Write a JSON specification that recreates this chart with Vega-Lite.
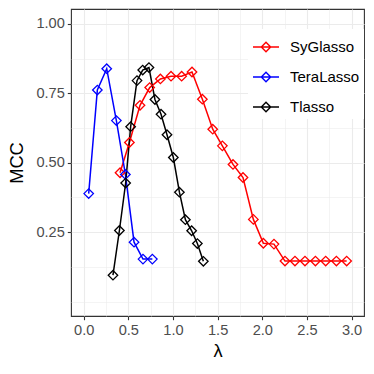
{
  "$schema": "https://vega.github.io/schema/vega-lite/v6.json",
  "width": 293,
  "height": 307,
  "autosize": "none",
  "padding": {"left": 71, "top": 9, "right": 10, "bottom": 58},
  "background": "white",
  "config": {
    "font": "Liberation Sans",
    "view": {"stroke": "#333333", "strokeWidth": 1.1},
    "axis": {
      "domain": false,
      "gridColor": "#EBEBEB",
      "tickColor": "#333333",
      "tickSize": 3.7,
      "tickWidth": 1.1,
      "labelColor": "#4D4D4D",
      "labelFontSize": 14.6,
      "labelFont": "Liberation Sans",
      "labelPadding": 3,
      "titleColor": "black",
      "titleFont": "Liberation Sans",
      "titleFontSize": 18.3,
      "titleFontWeight": "normal"
    }
  },
  "data": {
    "values": [
      {"method": "SyGlasso", "lambda": 0.407, "mcc": 0.464},
      {"method": "SyGlasso", "lambda": 0.512, "mcc": 0.573},
      {"method": "SyGlasso", "lambda": 0.631, "mcc": 0.707},
      {"method": "SyGlasso", "lambda": 0.739, "mcc": 0.771},
      {"method": "SyGlasso", "lambda": 0.859, "mcc": 0.802},
      {"method": "SyGlasso", "lambda": 0.978, "mcc": 0.812},
      {"method": "SyGlasso", "lambda": 1.097, "mcc": 0.812},
      {"method": "SyGlasso", "lambda": 1.213, "mcc": 0.827},
      {"method": "SyGlasso", "lambda": 1.329, "mcc": 0.729},
      {"method": "SyGlasso", "lambda": 1.445, "mcc": 0.621},
      {"method": "SyGlasso", "lambda": 1.553, "mcc": 0.561},
      {"method": "SyGlasso", "lambda": 1.672, "mcc": 0.494},
      {"method": "SyGlasso", "lambda": 1.784, "mcc": 0.447},
      {"method": "SyGlasso", "lambda": 1.900, "mcc": 0.296},
      {"method": "SyGlasso", "lambda": 2.012, "mcc": 0.210},
      {"method": "SyGlasso", "lambda": 2.131, "mcc": 0.207},
      {"method": "SyGlasso", "lambda": 2.254, "mcc": 0.146},
      {"method": "SyGlasso", "lambda": 2.366, "mcc": 0.146},
      {"method": "SyGlasso", "lambda": 2.478, "mcc": 0.146},
      {"method": "SyGlasso", "lambda": 2.595, "mcc": 0.146},
      {"method": "SyGlasso", "lambda": 2.710, "mcc": 0.146},
      {"method": "SyGlasso", "lambda": 2.830, "mcc": 0.146},
      {"method": "SyGlasso", "lambda": 2.945, "mcc": 0.146},
      {"method": "TeraLasso", "lambda": 0.056, "mcc": 0.389},
      {"method": "TeraLasso", "lambda": 0.153, "mcc": 0.762},
      {"method": "TeraLasso", "lambda": 0.258, "mcc": 0.839},
      {"method": "TeraLasso", "lambda": 0.366, "mcc": 0.652},
      {"method": "TeraLasso", "lambda": 0.467, "mcc": 0.458},
      {"method": "TeraLasso", "lambda": 0.564, "mcc": 0.214},
      {"method": "TeraLasso", "lambda": 0.664, "mcc": 0.153},
      {"method": "TeraLasso", "lambda": 0.769, "mcc": 0.153},
      {"method": "Tlasso", "lambda": 0.328, "mcc": 0.095},
      {"method": "Tlasso", "lambda": 0.400, "mcc": 0.256},
      {"method": "Tlasso", "lambda": 0.470, "mcc": 0.427},
      {"method": "Tlasso", "lambda": 0.526, "mcc": 0.630},
      {"method": "Tlasso", "lambda": 0.597, "mcc": 0.796},
      {"method": "Tlasso", "lambda": 0.661, "mcc": 0.834},
      {"method": "Tlasso", "lambda": 0.731, "mcc": 0.843},
      {"method": "Tlasso", "lambda": 0.798, "mcc": 0.728},
      {"method": "Tlasso", "lambda": 0.866, "mcc": 0.675},
      {"method": "Tlasso", "lambda": 0.933, "mcc": 0.601},
      {"method": "Tlasso", "lambda": 1.004, "mcc": 0.519},
      {"method": "Tlasso", "lambda": 1.072, "mcc": 0.394},
      {"method": "Tlasso", "lambda": 1.139, "mcc": 0.295},
      {"method": "Tlasso", "lambda": 1.209, "mcc": 0.255},
      {"method": "Tlasso", "lambda": 1.273, "mcc": 0.209},
      {"method": "Tlasso", "lambda": 1.340, "mcc": 0.145}
    ]
  },
  "mark": {
    "type": "line",
    "strokeWidth": 1.5,
    "point": {"shape": "diamond", "filled": false, "size": 90, "strokeWidth": 1.3}
  },
  "encoding": {
    "x": {
      "field": "lambda",
      "type": "quantitative",
      "title": "λ",
      "scale": {"domain": [-0.142, 3.139], "nice": false, "zero": false},
      "axis": {
        "values": [0, 0.25, 0.5, 0.75, 1, 1.25, 1.5, 1.75, 2, 2.25, 2.5, 2.75, 3],
        "format": ".1f",
        "labelExpr": "(datum.value * 2) % 1 === 0 ? datum.label : ''",
        "tickOpacity": {"condition": {"test": "(datum.value * 2) % 1 === 0", "value": 1}, "value": 0},
        "gridWidth": {"condition": {"test": "(datum.value * 2) % 1 === 0", "value": 1.1}, "value": 0.55},
        "titlePadding": 5
      }
    },
    "y": {
      "field": "mcc",
      "type": "quantitative",
      "title": "MCC",
      "scale": {"domain": [-0.052, 1.054], "nice": false, "zero": false},
      "axis": {
        "values": [0, 0.125, 0.25, 0.375, 0.5, 0.625, 0.75, 0.875, 1],
        "format": ".2f",
        "labelExpr": "(datum.value * 4) % 1 === 0 && datum.value > 0 ? datum.label : ''",
        "tickOpacity": {"condition": {"test": "(datum.value * 4) % 1 === 0 && datum.value > 0", "value": 1}, "value": 0},
        "gridWidth": {"condition": {"test": "(datum.value * 4) % 1 === 0 && datum.value > 0", "value": 1.1}, "value": 0.55},
        "titlePadding": 9
      }
    },
    "color": {
      "field": "method",
      "type": "nominal",
      "scale": {"domain": ["SyGlasso", "TeraLasso", "Tlasso"], "range": ["#FF0000", "#0000FF", "#000000"]},
      "legend": {
        "title": null,
        "orient": "none",
        "legendX": 177,
        "legendY": 20,
        "padding": 4,
        "fillColor": "white",
        "symbolType": "M-1,0L1,0M0,-0.36L0.36,0L0,0.36L-0.36,0Z",
        "symbolSize": 676,
        "symbolStrokeWidth": 1.4,
        "symbolFillColor": "transparent",
        "labelFontSize": 15,
        "labelColor": "black",
        "labelFont": "Liberation Sans",
        "labelOffset": 10,
        "rowPadding": 8
      }
    }
  }
}
